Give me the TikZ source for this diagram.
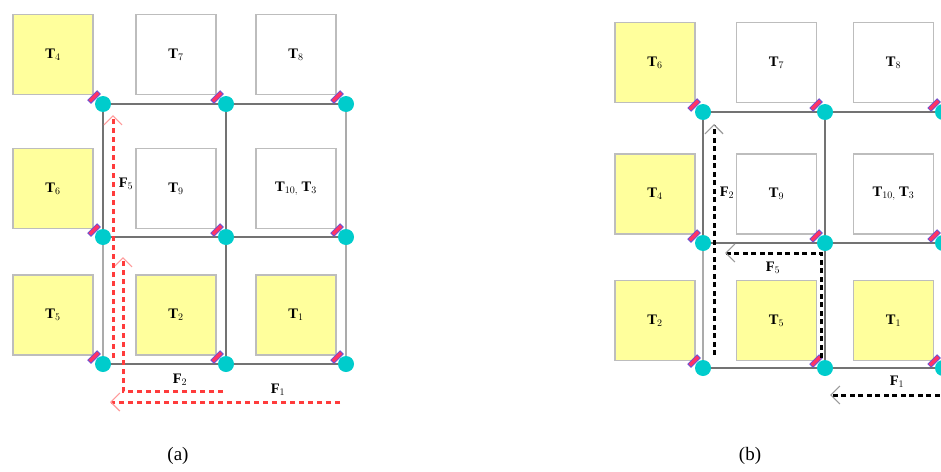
\documentclass[tikz,border=0pt]{standalone}
\usepackage{fontspec}
\setmainfont{Liberation Serif}
\usetikzlibrary{arrows.meta}

\definecolor{tileyellow}{HTML}{FFFF9C}
\definecolor{tileedge}{HTML}{BDBDBD}
\definecolor{routercyan}{HTML}{00CCCC}
\definecolor{linkred}{HTML}{FF3366}
\definecolor{linkedge}{HTML}{6A4FD0}
\definecolor{meshdark}{HTML}{737373}
\definecolor{meshlight}{HTML}{ABABAB}
\definecolor{flowred}{HTML}{FF3B3B}
\definecolor{tipred}{HTML}{FF9A9A}
\definecolor{tipgray}{HTML}{9A9A9A}

\tikzset{
  tile/.style={draw=tileedge, line width=1.4pt, fill=white, minimum width=80pt,
    minimum height=80pt, inner sep=0pt, font=\bfseries\fontsize{14.5}{14.5}\selectfont},
  hot/.style={tile, fill=tileyellow},
  router/.style={circle, fill=routercyan, minimum size=16pt, inner sep=0pt},
  netlink/.style={draw=linkedge, fill=linkred, line width=0.8pt, minimum width=13pt,
    minimum height=4.5pt, inner sep=0pt, rotate=45},
  mesh/.style={draw=meshdark, line width=1.6pt},
  meshpale/.style={draw=meshlight, line width=1.6pt},
  redflow/.style={draw=flowred, line width=3pt, dash pattern=on 5.5pt off 3.5pt,
    -{Straight Barb[length=9pt, width=18pt, line width=1.2pt, color=tipred]}},
  blackflow/.style={draw=black, line width=3pt, dash pattern=on 5pt off 3.5pt,
    -{Straight Barb[length=9pt, width=18pt, line width=1.2pt, color=tipgray]}},
  flowlabel/.style={font=\bfseries\fontsize{14.5}{14.5}\selectfont, inner sep=0pt},
  caption/.style={font=\fontsize{19}{19}\selectfont, inner sep=0pt}
}

\begin{document}
\begin{tikzpicture}[x=1pt, y=-1pt]
\clip (0,0) rectangle (941,471);
\fill[white] (0,0) rectangle (941,471);

% ---------------- panel (a) ----------------
\foreach \c/\x in {1/103, 2/226, 3/346}
  \foreach \r/\y in {1/104, 2/237, 3/364}
    \coordinate (a\r\c) at (\x,\y);

\draw[mesh] (a11) -- (a12) -- (a13);
\draw[mesh] (a21) -- (a22) -- (a23);
\draw[mesh] (a31) -- (a32) -- (a33);
\draw[mesh] (a11) -- (a21);
\draw[meshpale] (a21) -- (a31);
\draw[mesh] (a12) -- (a22) -- (a32);
\draw[meshpale] (a13) -- (a23) -- (a33);

\node[hot]  (aT4)  at (53,54.5)   {T$_{4}$};
\node[tile] (aT7)  at (176,54.5)  {T$_{7}$};
\node[tile] (aT8)  at (296,54.5)  {T$_{8}$};
\node[hot]  (aT6)  at (53,188.5)  {T$_{6}$};
\node[tile] (aT9)  at (176,188.5) {T$_{9}$};
\node[tile] (aT10) at (296,188.5) {T$_{10,}$ T$_{3}$};
\node[hot]  (aT5)  at (53,315)   {T$_{5}$};
\node[hot]  (aT2)  at (176,315)  {T$_{2}$};
\node[hot]  (aT1)  at (296,315)  {T$_{1}$};

\foreach \r in {1,2,3}
  \foreach \c in {1,2,3} {
    \node[router] (ra\r\c) at (a\r\c) {};
    \node[netlink] (la\r\c) at ([shift={(-9,-7)}]a\r\c) {};
  }

% flows in (a)
\coordinate (aF1s) at (340,402);
\coordinate (aF1e) at (110,402);
\coordinate (aF2s) at (223,391);
\coordinate (aF2b) at (123,391);
\coordinate (aF2e) at (123,257);
\coordinate (aF5s) at (113,358);
\coordinate (aF5e) at (113,115);
\draw[redflow] (aF1s) -- (aF1e);
\draw[redflow] (aF2s) -- (aF2b) -- (aF2e);
\draw[redflow] (aF5s) -- (aF5e);

\node[flowlabel] (aL5) at (126,184) {F$_{5}$};
\node[flowlabel] (aL2) at (180,380) {F$_{2}$};
\node[flowlabel] (aL1) at (278,390) {F$_{1}$};

\node[caption] (capa) at (178,456) {(a)};

% ---------------- panel (b) ----------------
\foreach \c/\x in {1/703, 2/825, 3/943}
  \foreach \r/\y in {1/112, 2/243, 3/368}
    \coordinate (b\r\c) at (\x,\y);

\draw[mesh] (b11) -- (b12) -- (b13);
\draw[mesh] (b21) -- (b22) -- (b23);
\draw[mesh] (b31) -- (b32) -- (b33);
\draw[mesh] (b11) -- (b21);
\draw[meshpale] (b21) -- (b31);
\draw[mesh] (b12) -- (b22) -- (b32);
\draw[meshpale] (b13) -- (b23) -- (b33);

\node[hot]  (bT6)  at (655,62.5)   {T$_{6}$};
\node[tile] (bT7)  at (776.5,62.5) {T$_{7}$};
\node[tile] (bT8)  at (893.5,62.5) {T$_{8}$};
\node[hot]  (bT4)  at (655,194)    {T$_{4}$};
\node[tile] (bT9)  at (776.5,194)  {T$_{9}$};
\node[tile] (bT10) at (893.5,194)  {T$_{10,}$ T$_{3}$};
\node[hot]  (bT2)  at (655,320.5)   {T$_{2}$};
\node[hot]  (bT5)  at (776.5,320.5) {T$_{5}$};
\node[hot]  (bT1)  at (893.5,320.5) {T$_{1}$};

\foreach \r in {1,2,3}
  \foreach \c in {1,2,3} {
    \node[router] (rb\r\c) at (b\r\c) {};
    \node[netlink] (lb\r\c) at ([shift={(-9,-7)}]b\r\c) {};
  }

% flows in (b)
\coordinate (bF1s) at (948,395);
\coordinate (bF1e) at (830,395);
\coordinate (bF2s) at (714,355);
\coordinate (bF2e) at (714,124);
\coordinate (bF5s) at (821,358);
\coordinate (bF5b) at (821,253);
\coordinate (bF5e) at (725,253);
\draw[blackflow] (bF1s) -- (bF1e);
\draw[blackflow] (bF2s) -- (bF2e);
\draw[blackflow] (bF5s) -- (bF5b) -- (bF5e);

\node[flowlabel] (bL2) at (727,193) {F$_{2}$};
\node[flowlabel] (bL5) at (773,268) {F$_{5}$};
\node[flowlabel] (bL1) at (897,382) {F$_{1}$};

\node[caption] (capb) at (750,456) {(b)};
\end{tikzpicture}
\end{document}
